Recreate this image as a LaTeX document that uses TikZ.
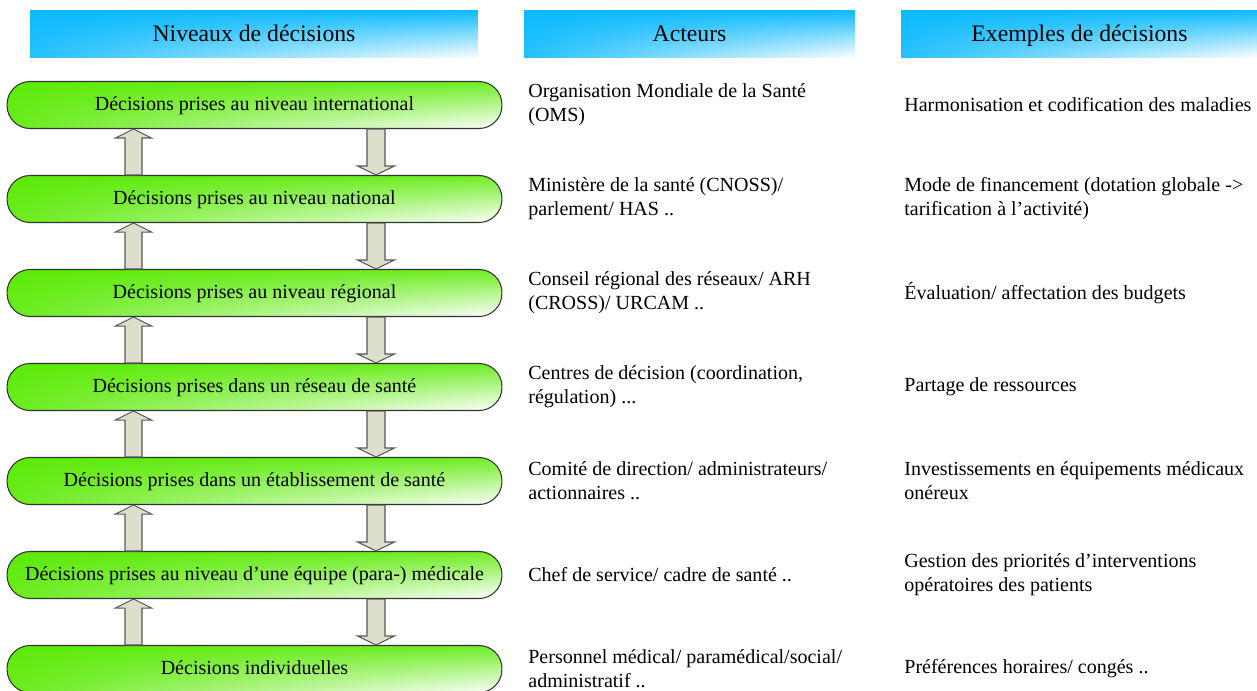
\documentclass[tikz,border=0pt]{standalone}
\usepackage{fontspec}
\setmainfont{Liberation Serif}
\usetikzlibrary{calc,shadings}

\definecolor{bleuciel}{RGB}{12,186,252}
\definecolor{vertvif}{RGB}{92,234,8}
\definecolor{beigefleche}{RGB}{221,223,204}

\tikzset{
  titre/.style={shade, upper left=bleuciel, upper right=bleuciel, lower left=bleuciel!90,
    lower right=white, minimum height=0.96cm, inner sep=0pt,
    text height=2.2ex, text depth=0.3ex,
    font=\fontsize{13.5}{16}\selectfont},
  niveau/.style={draw=black!80, line width=0.6pt, rounded corners=0.46cm, shade,
    upper left=vertvif, upper right=vertvif!88, lower left=vertvif!92, lower right=white,
    minimum width=9.9cm, minimum height=0.94cm, inner sep=0pt,
    text height=1.7ex, text depth=0.3ex,
    font=\fontsize{11.4}{13.7}\selectfont},
  texte/.style={anchor=west, align=left, inner sep=0pt,
    font=\fontsize{11.4}{13.7}\selectfont},
  fleche/.style={draw=black!65, line width=0.6pt, fill=beigefleche}
}

% block arrow going up, from the lower box #1 to the upper box #2
\newcommand{\flechehaut}[2]{%
  \draw[fleche] ($(#1.north)+(-129.5,0)$) -- ($(#2.south)+(-129.5,9)$)
    -- ($(#2.south)+(-139,9)$) -- ($(#2.south)+(-121,0)$) -- ($(#2.south)+(-103,9)$)
    -- ($(#2.south)+(-112.5,9)$) -- ($(#1.north)+(-112.5,0)$) -- cycle;}
% block arrow going down, from the upper box #1 to the lower box #2
\newcommand{\flechebas}[2]{%
  \draw[fleche] ($(#1.south)+(112.5,0)$) -- ($(#2.north)+(112.5,-9)$)
    -- ($(#2.north)+(103,-9)$) -- ($(#2.north)+(121.5,0)$) -- ($(#2.north)+(140,-9)$)
    -- ($(#2.north)+(130.5,-9)$) -- ($(#1.south)+(130.5,0)$) -- cycle;}

\begin{document}
\begin{tikzpicture}[x=0.02cm, y=-0.02cm]
    \useasboundingbox (0,0) rectangle (1257,690);
    % column titles
    \node[titre, minimum width=8.96cm] (tniv) at (254,34) {Niveaux de décisions};
    \node[titre, minimum width=6.62cm] (tact) at (689.5,34) {Acteurs};
    \node[titre, minimum width=7.14cm] (tex) at (1079.5,34) {Exemples de décisions};
    % levels of decision
    \node[niveau] (niv1) at (254.5,105) {Décisions prises au niveau international};
    \node[niveau] (niv2) at (254.5,199) {Décisions prises au niveau national};
    \node[niveau] (niv3) at (254.5,293) {Décisions prises au niveau régional};
    \node[niveau] (niv4) at (254.5,387) {Décisions prises dans un réseau de santé};
    \node[niveau] (niv5) at (254.5,481) {Décisions prises dans un établissement de santé};
    \node[niveau] (niv6) at (254.5,575) {Décisions prises au niveau d’une équipe (para-) médicale};
    \node[niveau] (niv7) at (254.5,669) {Décisions individuelles};
    % arrows between levels
    \foreach \bas/\haut in {niv2/niv1, niv3/niv2, niv4/niv3, niv5/niv4, niv6/niv5, niv7/niv6} {
      \flechehaut{\bas}{\haut}
      \flechebas{\haut}{\bas}
    }
    % actors
    \node[texte] (act1) at (528,105) {Organisation Mondiale de la Santé\\(OMS)};
    \node[texte] (act2) at (528,199) {Ministère de la santé (CNOSS)/\\parlement/ HAS ..};
    \node[texte] (act3) at (528,293) {Conseil régional des réseaux/ ARH\\(CROSS)/ URCAM ..};
    \node[texte] (act4) at (528,387) {Centres de décision (coordination,\\régulation) ...};
    \node[texte] (act5) at (528,481) {Comité de direction/ administrateurs/\\actionnaires ..};
    \node[texte] (act6) at (528,575) {Chef de service/ cadre de santé ..};
    \node[texte] (act7) at (528,669) {Personnel médical/ paramédical/social/\\administratif ..};
    % examples
    \node[texte] (ex1) at (904,105) {Harmonisation et codification des maladies};
    \node[texte] (ex2) at (904,199) {Mode de financement (dotation globale ->\\tarification à l’activité)};
    \node[texte] (ex3) at (904,293) {Évaluation/ affectation des budgets};
    \node[texte] (ex4) at (904,387) {Partage de ressources};
    \node[texte] (ex5) at (904,481) {Investissements en équipements médicaux\\onéreux};
    \node[texte] (ex6) at (904,575) {Gestion des priorités d’interventions\\opératoires des patients};
    \node[texte] (ex7) at (904,669) {Préférences horaires/ congés ..};
\end{tikzpicture}
\end{document}
